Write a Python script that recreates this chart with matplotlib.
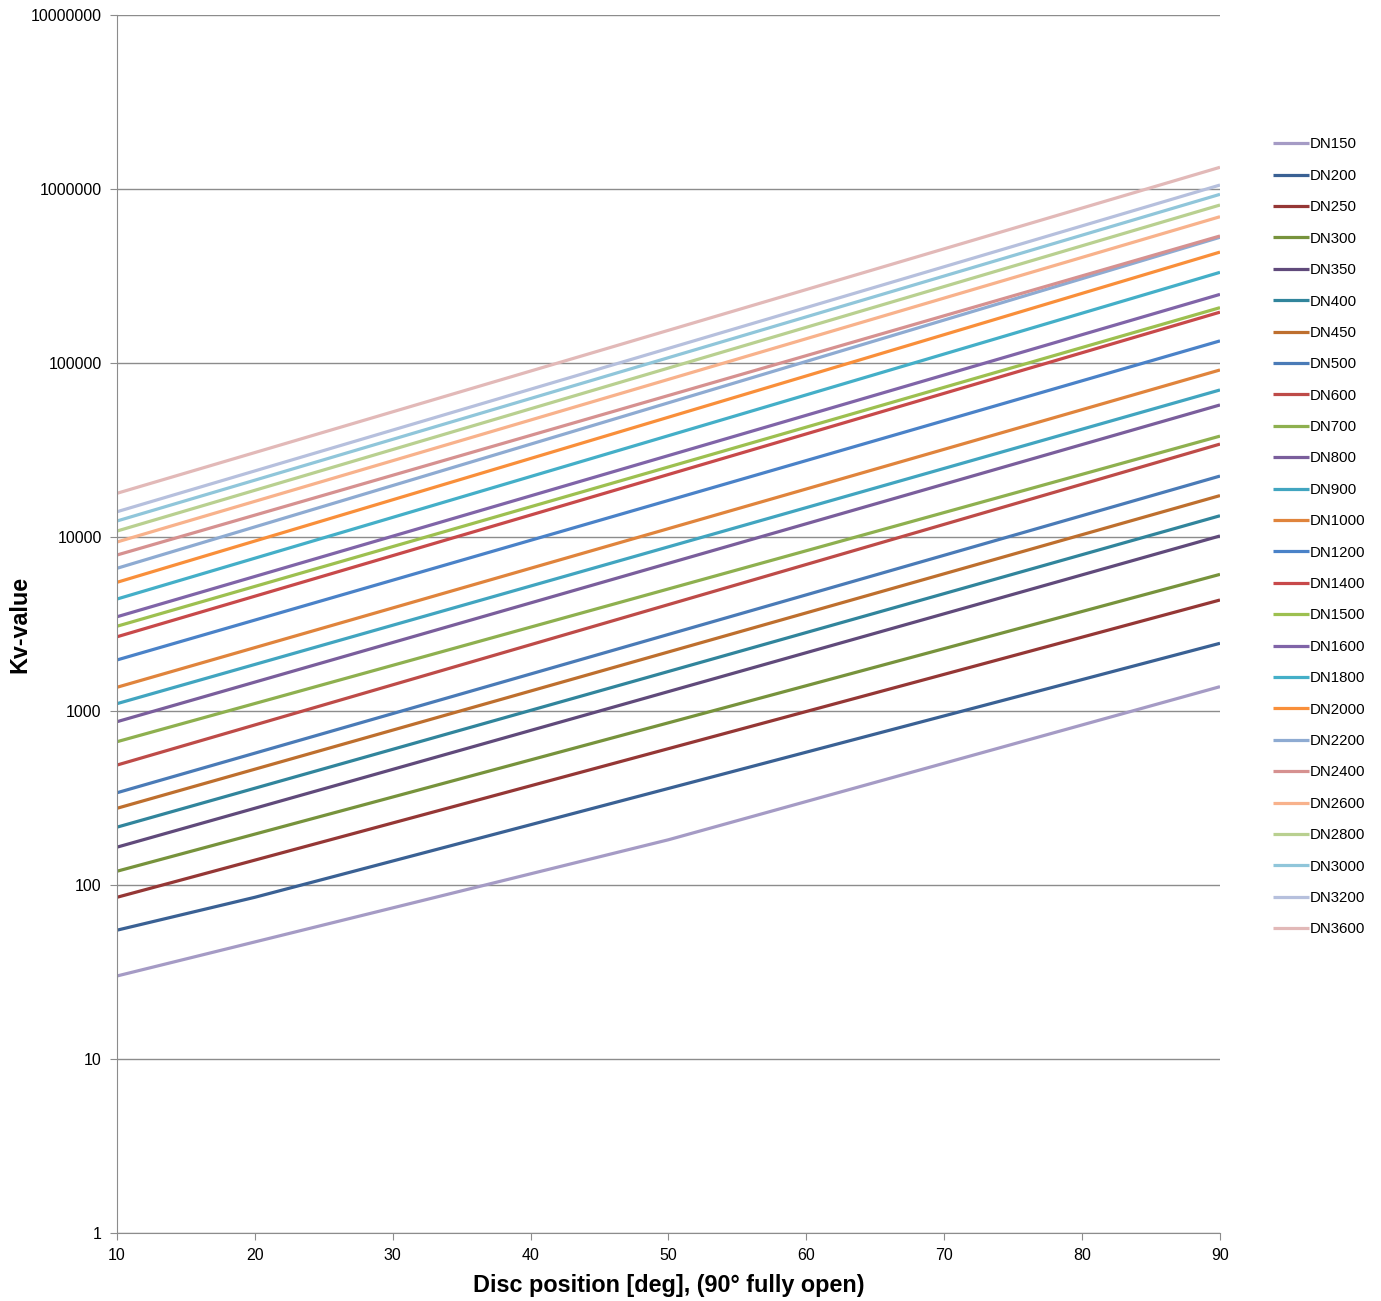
import matplotlib
matplotlib.use('Agg')
import matplotlib.pyplot as plt
from matplotlib.ticker import FuncFormatter, NullLocator

plt.rcParams['font.family'] = ['Liberation Sans', 'DejaVu Sans']

labels = ['DN150', 'DN200', 'DN250', 'DN300', 'DN350', 'DN400', 'DN450', 'DN500',
          'DN600', 'DN700', 'DN800', 'DN900', 'DN1000', 'DN1200', 'DN1400', 'DN1500',
          'DN1600', 'DN1800', 'DN2000', 'DN2200', 'DN2400', 'DN2600', 'DN2800',
          'DN3000', 'DN3200', 'DN3600']

# disc positions [deg] for each series
ends = [10, 90]
pos150 = [10, 50, 90]
pos200 = [10, 20, 90]

dn150 = [30, 182, 1380]
dn200 = [55, 85, 2450]
dn250 = [85, 4345]
dn300 = [120, 6100]
dn350 = [165, 10140]
dn400 = [215, 13250]
dn450 = [276, 17300]
dn500 = [339, 22400]
dn600 = [489, 34200]
dn700 = [666, 38000]
dn800 = [868, 57400]
dn900 = [1102, 70000]
dn1000 = [1369, 91200]
dn1200 = [1965, 134000]
dn1400 = [2670, 196000]
dn1500 = [3070, 208000]
dn1600 = [3480, 248000]
dn1800 = [4400, 332000]
dn2000 = [5490, 434000]
dn2200 = [6610, 528000]
dn2400 = [7880, 537000]
dn2600 = [9360, 693000]
dn2800 = [10820, 809000]
dn3000 = [12360, 932000]
dn3200 = [13970, 1054000]
dn3600 = [17830, 1333000]

series = [dn150, dn200, dn250, dn300, dn350, dn400, dn450, dn500, dn600, dn700,
          dn800, dn900, dn1000, dn1200, dn1400, dn1500, dn1600, dn1800, dn2000,
          dn2200, dn2400, dn2600, dn2800, dn3000, dn3200, dn3600]
positions = [pos150, pos200] + [ends] * 24

colors = ['#A59BC5', '#3A6194', '#953735', '#77933C', '#604A7B', '#31859C',
          '#BE6F2E', '#4A7BB7', '#BE4B48', '#8EB04F', '#7A5E9C', '#41A5C0',
          '#E0843C', '#4A82C8', '#C8494A', '#9DC050', '#8064A8', '#44AFC8',
          '#F98F3A', '#8EABD2', '#D69190', '#F8B28C', '#B9D090', '#90C6DA',
          '#B6C0DD', '#E2B9B8']

yticks = [1, 10, 100, 1000, 10000, 100000, 1000000, 10000000]

fig = plt.figure(figsize=(13.81, 13.01), dpi=100)
ax = fig.add_axes([117 / 1381, 1 - 1233 / 1301, (1220 - 117) / 1381, (1233 - 15) / 1301])

for xs, vals, lab, col in zip(positions, series, labels, colors):
    ax.plot(xs, vals, color=col, lw=2.3, label=lab, solid_capstyle='butt')

ax.set_yscale('log')
ax.set_ylim(1, 1e7)
ax.set_xlim(10, 90)
ax.set_xticks(range(10, 91, 10))
ax.set_yticks(yticks)
ax.yaxis.set_minor_locator(NullLocator())
ax.yaxis.set_major_formatter(FuncFormatter(lambda v, p: f'{int(round(v))}'))

ax.grid(axis='y', color='#8C8C8C', lw=1)
ax.set_axisbelow(True)
for s in ['top', 'right']:
    ax.spines[s].set_visible(False)
for s in ['left', 'bottom']:
    ax.spines[s].set_color('#8C8C8C')
ax.tick_params(axis='both', direction='out', length=5, color='#8C8C8C',
               labelsize=11.5, pad=6)

ax.set_xlabel('Disc position [deg], (90° fully open)', fontsize=16.8, fontweight='bold', labelpad=8)
ax.set_ylabel('Kv-value', fontsize=16.8, fontweight='bold')
ax.yaxis.set_label_coords(-0.078, 0.5)

fig.legend(*ax.get_legend_handles_labels(), loc='upper left',
           bbox_to_anchor=(1259 / 1381, 1 - 124 / 1301), frameon=False,
           fontsize=10.8, handlelength=2.4, handletextpad=0.1, labelspacing=1.16)

fig.savefig('out.png', dpi=100)
